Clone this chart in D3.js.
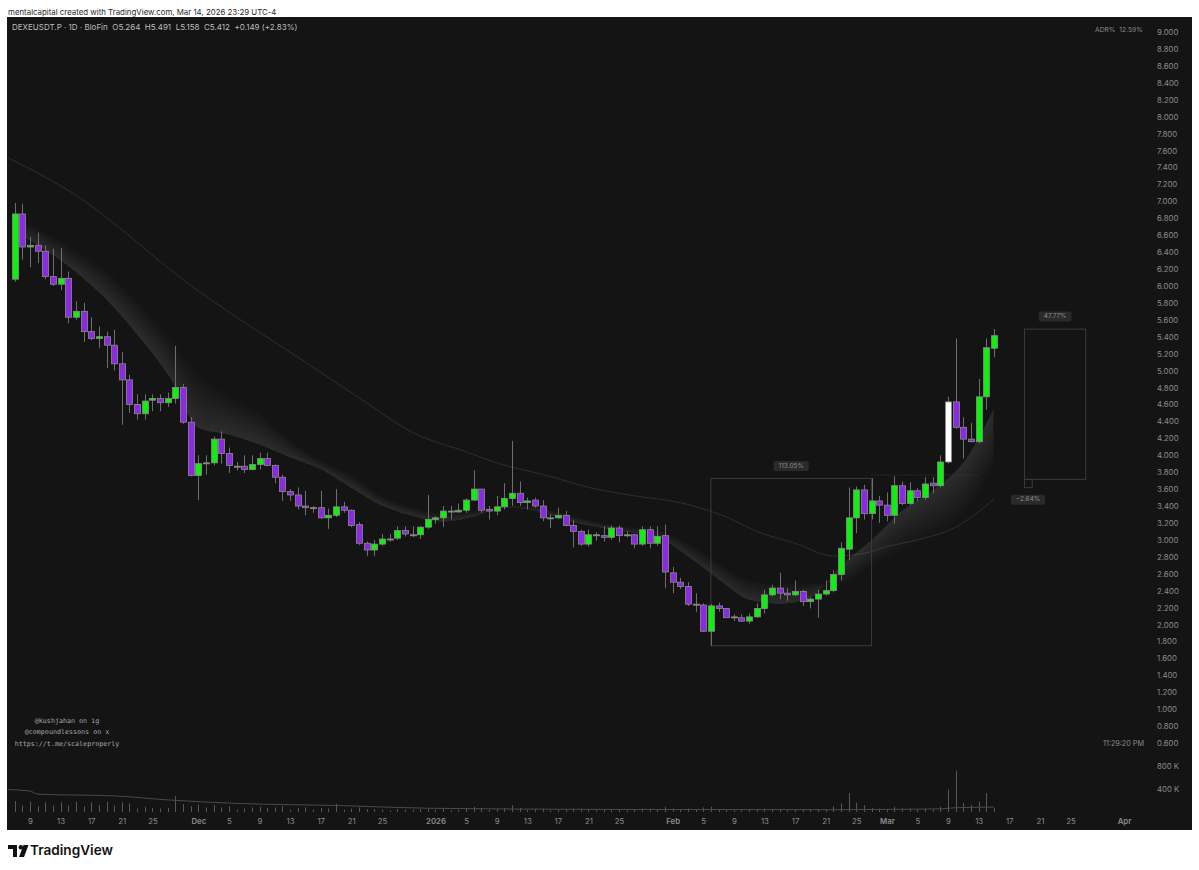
<!DOCTYPE html>
<html><head><meta charset="utf-8">
<script src="https://cdn.jsdelivr.net/npm/d3@7"></script>
<style>body{margin:0;background:#fff}svg{display:block}</style>
</head><body>
<script>
// ---------------- DATA ----------------
const startDate = "2025-11-07"; // daily candles, consecutive days
const opens  = [6.08,6.85,6.46,6.48,6.41,6.11,6.02,6.09,5.63,5.70,5.46,5.38,5.40,5.30,5.08,4.89,4.60,4.49,4.65,4.67,4.62,4.67,4.80,4.39,
 3.76,3.90,3.91,4.19,4.02,3.87,3.87,3.83,3.89,3.96,3.88,3.74,3.57,3.53,3.40,3.38,3.38,3.26,3.29,3.39,3.35,3.18,2.96,2.88,2.95,3.01,3.02,3.11,3.06,3.06,3.15,
 3.24,3.26,3.34,3.33,3.35,3.47,3.60,3.36,3.34,3.39,3.49,3.55,3.44,3.47,3.40,3.26,3.26,3.29,3.17,3.10,2.95,3.06,3.05,3.03,3.14,3.05,3.06,2.95,3.12,2.96,3.05,
 2.61,2.50,2.45,2.24,2.23,1.92,2.22,2.19,2.09,2.08,2.04,2.09,2.19,2.35,2.43,2.37,2.35,2.39,2.27,2.30,2.36,2.40,2.59,2.89,3.26,3.59,3.31,3.46,
 3.41,3.29,3.64,3.43,3.58,3.50,3.67,3.64,3.92,4.63,4.33,4.19,4.16,4.69,5.264];
const highs  = [6.98,6.97,6.58,6.63,6.48,6.44,6.45,6.17,5.82,5.80,5.63,5.52,5.46,5.48,5.22,4.95,4.72,4.72,4.72,4.72,4.74,5.29,4.84,4.45,
 4.00,4.00,4.22,4.28,4.09,3.92,4.00,4.00,4.03,4.03,3.89,3.77,3.60,3.62,3.58,3.40,3.58,3.37,3.60,3.45,3.36,3.21,2.98,3.00,3.07,3.07,3.16,3.16,3.16,3.16,3.53,
 3.28,3.40,3.40,3.43,3.49,3.82,3.60,3.40,3.52,3.67,4.17,3.69,3.50,3.50,3.47,3.30,3.38,3.34,3.23,3.12,3.12,3.09,3.16,3.17,3.17,3.10,3.07,3.16,3.16,3.16,3.18,
 2.68,2.55,2.50,2.37,2.25,2.24,2.26,2.19,2.12,2.12,2.13,2.25,2.41,2.47,2.61,2.43,2.52,2.41,2.32,2.41,2.52,2.64,2.97,3.62,3.63,3.65,3.73,3.52,
 3.56,3.75,3.69,3.68,3.61,3.74,3.74,4.00,4.69,5.38,4.45,4.38,4.90,5.38,5.491];
const lows   = [6.05,6.31,6.22,6.27,6.08,6.00,5.95,5.56,5.60,5.34,5.36,5.27,5.03,5.00,4.36,4.50,4.42,4.42,4.52,4.52,4.57,4.61,4.37,3.75,
 3.47,3.77,3.88,3.90,3.79,3.82,3.79,3.82,3.83,3.87,3.67,3.46,3.46,3.36,3.29,3.32,3.25,3.13,3.27,3.32,3.15,2.94,2.81,2.81,2.93,2.98,3.00,3.04,3.03,3.01,3.13,
 3.19,3.15,3.24,3.32,3.32,3.46,3.32,3.24,3.29,3.36,3.40,3.40,3.36,3.38,3.22,3.14,3.25,3.16,2.91,2.93,2.92,2.99,2.98,3.00,2.97,3.03,2.90,2.93,2.90,2.93,2.43,
 2.37,2.42,2.22,2.15,1.91,1.75,2.15,2.08,2.04,2.03,2.01,2.08,2.13,2.33,2.30,2.28,2.33,2.22,2.19,2.08,2.34,2.38,2.52,2.76,3.08,3.24,3.24,3.20,
 3.22,3.19,3.41,3.41,3.46,3.47,3.55,3.62,3.90,4.31,3.96,4.15,4.14,4.54,5.158];
const closes = [6.85,6.46,6.48,6.41,6.11,6.02,6.09,5.63,5.70,5.46,5.38,5.40,5.30,5.08,4.89,4.60,4.49,4.64,4.67,4.62,4.67,4.80,4.39,3.76,
 3.90,3.91,4.19,4.02,3.88,3.87,3.83,3.89,3.96,3.88,3.74,3.57,3.53,3.40,3.38,3.38,3.26,3.29,3.39,3.35,3.17,2.96,2.88,2.95,3.01,3.01,3.11,3.07,3.06,3.15,3.24,
 3.26,3.34,3.34,3.35,3.47,3.60,3.35,3.34,3.39,3.49,3.55,3.44,3.46,3.40,3.26,3.26,3.29,3.17,3.10,2.95,3.06,3.06,3.03,3.14,3.05,3.06,2.95,3.12,2.96,3.04,2.62,
 2.50,2.45,2.24,2.24,1.92,2.22,2.19,2.08,2.09,2.04,2.09,2.19,2.35,2.43,2.37,2.35,2.39,2.27,2.30,2.36,2.40,2.59,2.90,3.26,3.59,3.31,3.46,3.41,
 3.29,3.64,3.43,3.58,3.50,3.66,3.64,3.92,4.63,4.33,4.19,4.16,4.69,5.27,5.412];
const volumesK = [190,110,180,100,170,110,170, 110,180,100,170,120,180,110, 170,150,60,90,70,60,70, 280,140,100,
 130,80,120,80,100,40,60, 80,90,70,80,100,40,70, 80,40,70,60,140,40,60, 80,50,50,40,30,50,40, 40,50,60,
 40,60,30,40,60,90,70, 40,50,70,120,70,40,50, 60,30,40,50,60,60,50, 30,40,50,50,30,50,60, 60,50,90,
 60,40,60,40,80,90,40, 40,30,30,40,50,60,50, 50,30,40,40,40,50,40, 100,150,330,160,120,70,60,
 50,90,60,60,50,60,40, 90,390,720,160,120,180,330, 70];
const highlightDates = ["2026-03-09"];

// EMA ribbon edges (fast = edge nearest price)
const ribbonDates = ["2025-11-07","2025-11-11","2025-11-15","2025-11-19","2025-11-23","2025-11-27","2025-12-01","2025-12-05","2025-12-09","2025-12-13","2025-12-17","2025-12-21","2025-12-25","2025-12-29",
 "2026-01-02","2026-01-06","2026-01-10","2026-01-14","2026-01-18","2026-01-22","2026-01-26","2026-01-30","2026-02-03","2026-02-07","2026-02-11","2026-02-15","2026-02-19","2026-02-23","2026-02-27","2026-03-03","2026-03-07","2026-03-11","2026-03-15"];
const ribbonFast = [6.64,6.42,6.16,5.83,5.42,4.95,4.32,4.24,4.12,3.97,3.83,3.61,3.40,3.28,3.21,3.27,3.38,3.34,3.23,3.15,3.09,3.03,2.80,2.53,2.29,2.24,2.31,2.70,3.00,3.35,3.59,3.92,4.56];
const ribbonSlow = [6.79,6.64,6.42,6.19,5.83,5.42,4.98,4.71,4.50,4.18,3.94,3.77,3.52,3.39,3.32,3.34,3.41,3.40,3.31,3.22,3.16,3.12,2.96,2.73,2.53,2.49,2.50,2.47,2.68,2.88,3.06,3.29,3.85];

// long moving average line
const maDates = ["2025-11-06","2025-11-14","2025-12-01","2025-12-08","2025-12-15","2025-12-22","2025-12-29","2026-01-05","2026-01-09","2026-01-16","2026-01-21","2026-01-27","2026-02-02","2026-02-08","2026-02-12","2026-02-17","2026-02-22","2026-02-26","2026-03-01","2026-03-05","2026-03-10","2026-03-15"];
const maValues = [7.52,7.13,5.94,5.51,5.10,4.68,4.27,4.04,3.91,3.75,3.62,3.52,3.44,3.27,3.10,2.96,2.81,2.84,2.92,3.00,3.15,3.48];

// volume moving average
const vmaDates = ["2025-11-06","2025-11-09","2025-11-10","2025-11-20","2025-11-27","2025-12-06","2025-12-20","2025-12-31","2026-01-23","2026-02-22","2026-03-01","2026-03-08","2026-03-10","2026-03-15"];
const vmaValuesK = [390,365,310,280,210,150,110,65,45,40,45,55,75,85];

const priceTickLabels = ["0.600","0.800","1.000","1.200","1.400","1.600","1.800","2.000","2.200","2.400","2.600","2.800","3.000","3.200","3.400","3.600","3.800","4.000","4.200","4.400","4.600","4.800","5.000","5.200","5.400","5.600","5.800","6.000","6.200","6.400","6.600","6.800","7.000","7.200","7.400","7.600","7.800","8.000","8.200","8.400","8.600","8.800","9.000"];
const volumeTickLabels = ["400 K","800 K"];
const volumeTickValuesK = [400,800];
const xTickDates = ["2025-11-09","2025-11-13","2025-11-17","2025-11-21","2025-11-25","2025-12-01","2025-12-05","2025-12-09","2025-12-13","2025-12-17","2025-12-21","2025-12-25","2026-01-01","2026-01-05","2026-01-09","2026-01-13","2026-01-17","2026-01-21","2026-01-25","2026-02-01","2026-02-05","2026-02-09","2026-02-13","2026-02-17","2026-02-21","2026-02-25","2026-03-01","2026-03-05","2026-03-09","2026-03-13","2026-03-17","2026-03-21","2026-03-25","2026-04-01"];
const xTickLabels = ["9","13","17","21","25","Dec","5","9","13","17","21","25","2026","5","9","13","17","21","25","Feb","5","9","13","17","21","25","Mar","5","9","13","17","21","25","Apr"];

// measurement drawings
const measure1 = {from:"2026-02-06", to:"2026-02-27", low:1.749, high:3.726, label:"113.05%"};
const measure2 = {from:"2026-03-19", to:"2026-03-27", entry:3.715, target:5.490, stop:3.617, stopTo:"2026-03-20", up:"47.77%", down:"−2.64%"};
const dottedLine = {from:"2026-02-27", to:"2026-03-13", price:3.766};

const headerText = "mentalcapital created with TradingView.com, Mar 14, 2026 23:29 UTC-4";
const legendText = "DEXEUSDT.P · 1D · BloFin  O5.264  H5.491  L5.158  C5.412  +0.149 (+2.83%)";
const watermark = ["@kushjahan on ig","@compoundlessons on x","https://t.me/scaleproperly"];

// ---------------- RENDER ----------------
const parse = d3.utcParse("%Y-%m-%d");
const dates = d3.utcDay.range(parse(startDate), d3.utcDay.offset(parse(startDate), opens.length));
const candles = dates.map((d,i)=>({date:d,o:opens[i],h:highs[i],l:lows[i],c:closes[i],v:volumesK[i]*1000}));
const hl = new Set(highlightDates);

const x = d3.scaleUtc().domain([parse("2025-11-09"), parse("2026-04-01")]).range([30,1124]);
const y = d3.scaleLinear().domain([0.6, 9.0]).range([743, 32]);
const vy = d3.scaleLinear().domain([0, 800000]).range([812, 766]);

const svg = d3.select("body").append("svg").attr("width",1199).attr("height",870);
svg.append("rect").attr("width",1199).attr("height",870).attr("fill","#ffffff");
const FONT = "Inter, 'Liberation Sans', sans-serif";

function fitText(sel, width){
  const l = sel.node().getComputedTextLength();
  const fs = parseFloat(sel.attr("font-size"));
  sel.attr("font-size", fs*width/l);
}

fitText(svg.append("text").attr("x",8).attr("y",12.5).attr("font-family",FONT).attr("font-size",10)
  .attr("fill","#2a2a2a").attr("dominant-baseline","middle").text(headerText), 269);

svg.append("rect").attr("x",7).attr("y",17).attr("width",1185).attr("height",813).attr("fill","#141414");

const defs = svg.append("defs");
defs.append("clipPath").attr("id","plot").append("rect").attr("x",8).attr("y",18).attr("width",1138).attr("height",797);
const g = svg.append("g").attr("clip-path","url(#plot)");

// volume bars
g.append("g").selectAll("line").data(candles).join("line")
  .attr("x1",d=>Math.round(x(d.date))+0.5).attr("x2",d=>Math.round(x(d.date))+0.5)
  .attr("y1",vy(0)).attr("y2",d=>vy(d.v)).attr("stroke","#575757").attr("stroke-width",1);
const vma = vmaDates.map((d,i)=>({date:parse(d),v:vmaValuesK[i]*1000}));
g.append("path").datum(vma).attr("fill","none").attr("stroke","#4a4a4a").attr("stroke-width",1)
  .attr("d",d3.line().x(d=>x(d.date)).y(d=>vy(d.v)).curve(d3.curveMonotoneX));

// long MA
const ma = maDates.map((d,i)=>({date:parse(d),v:maValues[i]}));
g.append("path").datum(ma).attr("fill","none").attr("stroke","#2f2f2f").attr("stroke-width",1)
  .attr("d",d3.line().x(d=>x(d.date)).y(d=>y(d.v)).curve(d3.curveMonotoneX));

// ribbon (layered fill: lighter toward the fast edge)
const rib = ribbonDates.map((d,i)=>({date:parse(d),f:ribbonFast[i],s:ribbonSlow[i]}));
const N = 12;
for(let k=0;k<N;k++){
  const b=(k+1)/N;
  g.append("path").datum(rib).attr("fill","#ffffff").attr("fill-opacity",0.0115)
    .attr("d",d3.area().x(d=>x(d.date)).y0(d=>y(d.f)).y1(d=>y(d.f+(d.s-d.f)*b)).curve(d3.curveMonotoneX));
}

// measurement drawings
const mc = "#3b3b3b";
g.append("rect").attr("x",x(parse(measure1.from))).attr("y",y(measure1.high))
  .attr("width",x(parse(measure1.to))-x(parse(measure1.from))).attr("height",y(measure1.low)-y(measure1.high))
  .attr("fill","none").attr("stroke",mc).attr("stroke-width",1);
g.append("line").attr("x1",x(parse(dottedLine.from))).attr("x2",x(parse(dottedLine.to)))
  .attr("y1",y(dottedLine.price)).attr("y2",y(dottedLine.price)).attr("stroke","#444").attr("stroke-dasharray","1,2");
g.append("rect").attr("x",x(parse(measure2.from))).attr("y",y(measure2.target))
  .attr("width",x(parse(measure2.to))-x(parse(measure2.from))).attr("height",y(measure2.entry)-y(measure2.target))
  .attr("fill","none").attr("stroke",mc);
g.append("rect").attr("x",x(parse(measure2.from))).attr("y",y(measure2.entry))
  .attr("width",x(parse(measure2.stopTo))-x(parse(measure2.from))).attr("height",y(measure2.stop)-y(measure2.entry))
  .attr("fill","none").attr("stroke",mc);

function tag(cx, cy, txt){
  const t = svg.append("text").attr("x",cx).attr("y",cy).attr("text-anchor","middle").attr("dominant-baseline","middle")
    .attr("font-family",FONT).attr("font-size",6.5).attr("fill","#8a8a8a").text(txt);
  const w = t.node().getComputedTextLength()+10;
  svg.insert("rect", () => t.node()).attr("x",cx-w/2).attr("y",cy-5).attr("width",w).attr("height",10).attr("rx",2).attr("fill","#2a2a2a");
}
tag((x(parse(measure1.from))+x(parse(measure1.to)))/2, y(measure1.high)-12.5, measure1.label);
tag((x(parse(measure2.from))+x(parse(measure2.to)))/2, y(measure2.target)-12.5, measure2.up);
tag(x(parse(measure2.from))+3.5, y(measure2.stop)+12, measure2.down);

// candles
const cg = g.append("g");
cg.selectAll("line").data(candles).join("line")
  .attr("x1",d=>Math.round(x(d.date))+0.5).attr("x2",d=>Math.round(x(d.date))+0.5)
  .attr("y1",d=>y(d.h)).attr("y2",d=>y(d.l)).attr("stroke","#6e6e6e").attr("stroke-width",1);
cg.selectAll("rect").data(candles).join("rect")
  .attr("x",d=>Math.round(x(d.date))-2.5).attr("width",6)
  .attr("y",d=>y(Math.max(d.o,d.c))).attr("height",d=>Math.max(1,Math.abs(y(d.o)-y(d.c))))
  .attr("fill",d=>hl.has(d3.utcFormat("%Y-%m-%d")(d.date))?"#ffffff":(d.c>d.o?"#10f010":(d.c<d.o?"#8a2be2":"#8a8a8a")))
  .attr("stroke","#8a8a8a").attr("stroke-width",0.8);

// price axis
const priceTickValues = priceTickLabels.map(Number);
const ya = svg.append("g").attr("transform","translate(1153,0)")
  .call(d3.axisRight(y).tickValues(priceTickValues).tickFormat((d,i)=>priceTickLabels[i]).tickSize(0).tickPadding(4));
ya.select(".domain").remove();
ya.selectAll("text").attr("font-family",FONT).attr("font-size",7.8).attr("fill","#8c8c8c");

const va = svg.append("g").attr("transform","translate(1153,0)")
  .call(d3.axisRight(vy).tickValues(volumeTickValuesK.map(v=>v*1000)).tickFormat((d,i)=>volumeTickLabels[i]).tickSize(0).tickPadding(4));
va.select(".domain").remove();
va.selectAll("text").attr("font-family",FONT).attr("font-size",7.8).attr("fill","#8c8c8c");

// time axis
const xa = svg.append("g").attr("transform","translate(0,815)")
  .call(d3.axisBottom(x).tickValues(xTickDates.map(parse)).tickFormat((d,i)=>xTickLabels[i]).tickSize(0).tickPadding(3));
xa.select(".domain").remove();
xa.selectAll("text").attr("font-family",FONT).attr("font-size",7.8).attr("fill","#8c8c8c")
  .attr("font-weight",(d,i)=>isNaN(+xTickLabels[i]) || xTickLabels[i]==="2026" ? 600 : 400);

// legend + status texts
fitText(svg.append("text").attr("x",12).attr("y",28).attr("font-family",FONT).attr("font-size",9)
  .attr("fill","#bdbdbd").attr("dominant-baseline","middle").style("white-space","pre").text(legendText), 286);
fitText(svg.append("text").attr("x",1095).attr("y",30).attr("font-family",FONT).attr("font-size",7.5)
  .attr("fill","#8c8c8c").attr("dominant-baseline","middle").style("white-space","pre").text("ADR%  12.59%"), 48);
fitText(svg.append("text").attr("x",1103).attr("y",744).attr("font-family",FONT).attr("font-size",7.5)
  .attr("fill","#8c8c8c").attr("dominant-baseline","middle").text("11:29:20 PM"), 41);

watermark.forEach((t,i)=>{
  svg.append("text").attr("x",67).attr("y",721+i*11.5).attr("text-anchor","middle").attr("dominant-baseline","middle")
    .attr("font-family","'DejaVu Sans Mono', monospace").attr("font-size",6.7).attr("fill","#a8a8a8").text(t);
});

// TradingView logo
const lg = svg.append("g").attr("transform","translate(8,845)");
lg.append("path").attr("d","M0,0 H9 V12 H5 V4 H0 Z").attr("fill","#111");
lg.append("circle").attr("cx",12.8).attr("cy",2.2).attr("r",2.2).attr("fill","#111");
lg.append("path").attr("d","M15.5,0 H20.5 L16,12 H11 Z").attr("fill","#111");
fitText(svg.append("text").attr("x",30).attr("y",851).attr("font-family",FONT).attr("font-size",14).attr("font-weight",600)
  .attr("fill","#111").attr("dominant-baseline","middle").text("TradingView"), 83);
</script>
</body></html>
